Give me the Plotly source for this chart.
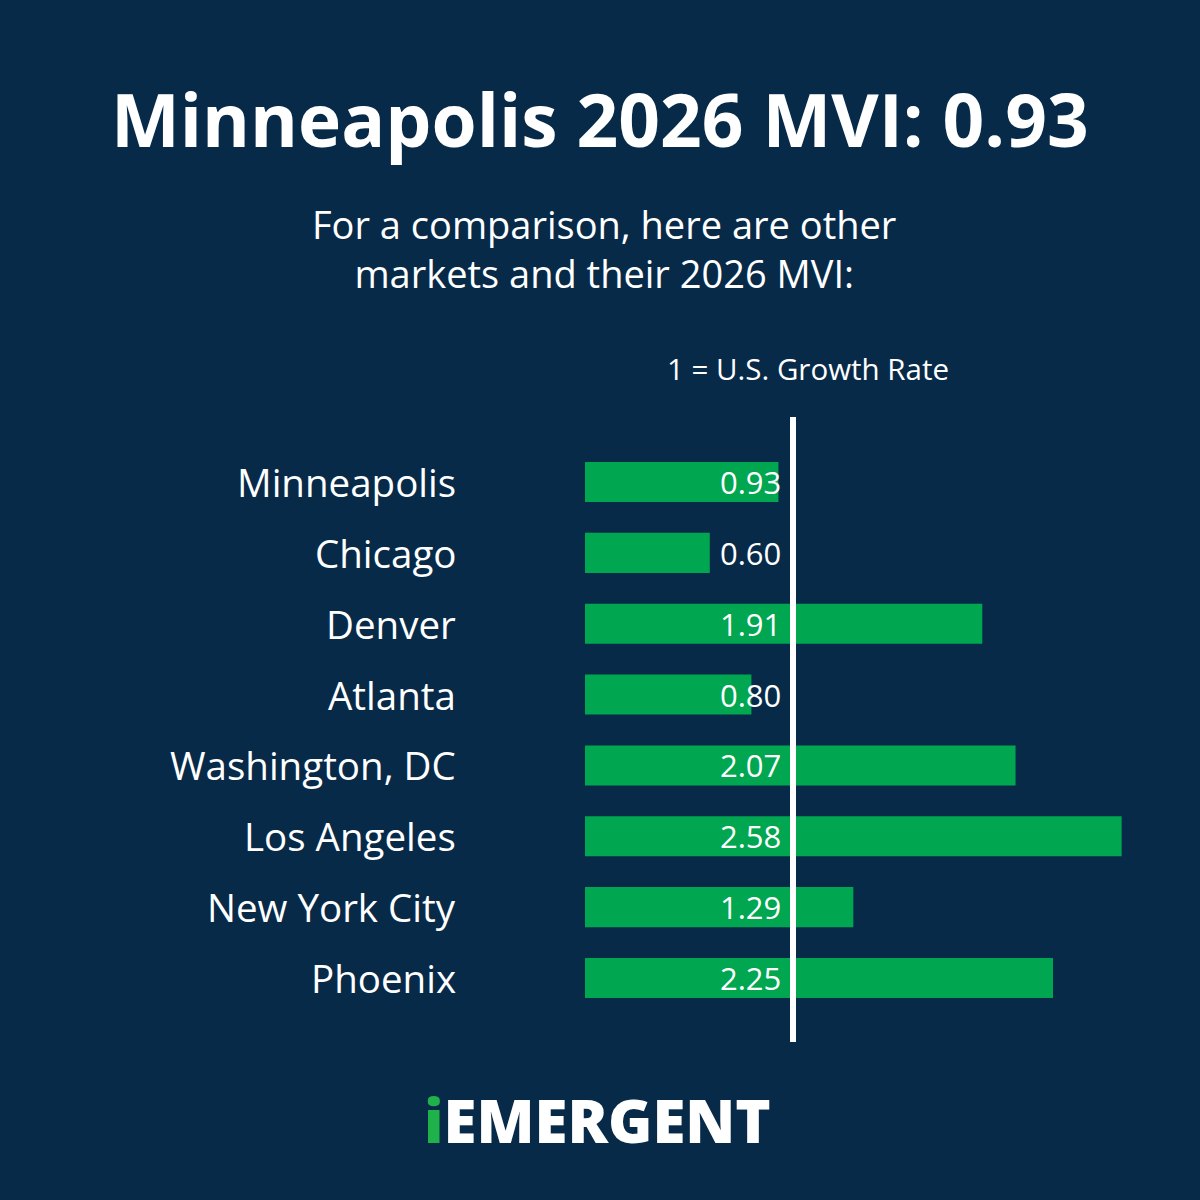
import plotly.graph_objects as go

cities = ["Minneapolis", "Chicago", "Denver", "Atlanta", "Washington, DC",
          "Los Angeles", "New York City", "Phoenix"]
mvi = [0.93, 0.60, 1.91, 0.80, 2.07, 2.58, 1.29, 2.25]
labels = ["0.93", "0.60", "1.91", "0.80", "2.07", "2.58", "1.29", "2.25"]

BG = "#072a49"
GREEN = "#00a650"
FONT = "Open Sans"

W = 1200
px_per_unit = 208.0
x0_px = 585.0
xmax = (W - x0_px) / px_per_unit

fig = go.Figure()
fig.add_trace(go.Bar(
    x=mvi, y=cities, orientation="h",
    marker=dict(color=GREEN, line=dict(width=0)),
    width=0.565, hoverinfo="skip", showlegend=False,
))

# value labels
for c, lab in zip(cities, labels):
    fig.add_annotation(x=0.95, y=c, xref="x", yref="y", text=lab,
                       xanchor="right", yanchor="middle", showarrow=False,
                       font=dict(family=FONT, size=31, color="white"))
# city labels
for c in cities:
    fig.add_annotation(x=458 / W, y=c, xref="paper", yref="y", text=c,
                       xanchor="right", yanchor="middle", showarrow=False,
                       font=dict(family=FONT, size=38.5, color="white"))

def py(p):
    return 1 - p / 1200

# reference line at 1
fig.add_shape(type="line", x0=1, x1=1, xref="x", yref="paper",
              y0=py(1042), y1=py(417), line=dict(color="white", width=6))

fig.add_annotation(x=0.5, y=py(118), xref="paper", yref="paper",
                   text="<b>Minneapolis 2026 MVI: 0.93</b>", showarrow=False,
                   xanchor="center", yanchor="middle",
                   font=dict(family=FONT, size=73, color="white"))
fig.add_annotation(x=604 / W, y=py(248), xref="paper", yref="paper",
                   text="For a comparison, here are other<br>markets and their 2026 MVI:",
                   showarrow=False, xanchor="center", yanchor="middle",
                   font=dict(family=FONT, size=38, color="white"))
fig.add_annotation(x=808 / W, y=py(368), xref="paper", yref="paper",
                   text="1 = U.S. Growth Rate", showarrow=False,
                   xanchor="center", yanchor="middle",
                   font=dict(family=FONT, size=29.5, color="white"))
fig.add_annotation(x=597 / W, y=py(1120), xref="paper", yref="paper",
                   text="<span style='color:#1fb24a'>i</span>EMERGENT",
                   showarrow=False, xanchor="center", yanchor="middle",
                   font=dict(family=FONT, size=60, color="white", weight=800))

fig.update_layout(
    width=1200, height=1200,
    paper_bgcolor=BG, plot_bgcolor=BG,
    margin=dict(l=0, r=0, t=0, b=0),
    xaxis=dict(domain=[x0_px / W, 1.0], range=[0, xmax], visible=False,
               showgrid=False, zeroline=False),
    yaxis=dict(domain=[py(1013.4), py(446.6)], range=[7.5, -0.5],
               visible=False, showgrid=False, categoryorder="array",
               categoryarray=cities),
    bargap=0.4,
)

fig.write_html("out.html")
